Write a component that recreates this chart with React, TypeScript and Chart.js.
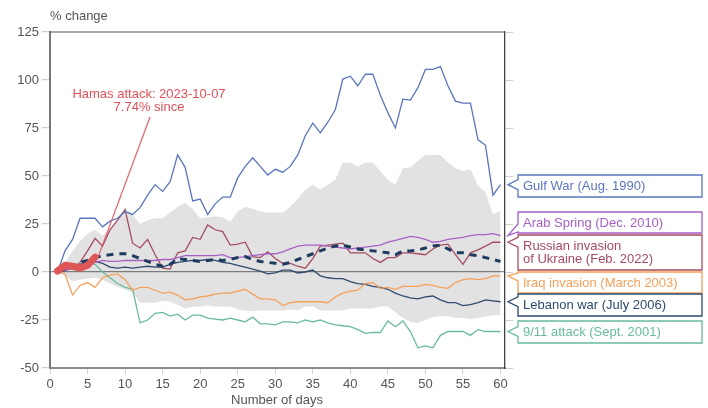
import React, { useEffect, useRef } from 'react';
import { Chart, registerables } from 'chart.js';

Chart.register(...registerables);

const FONT = '"Liberation Sans", Arial, sans-serif';

const days = [1, 2, 3, 4, 5, 6, 7, 8, 9, 10, 11, 12, 13, 14, 15, 16, 17, 18, 19, 20,
  21, 22, 23, 24, 25, 26, 27, 28, 29, 30, 31, 32, 33, 34, 35, 36, 37, 38, 39, 40,
  41, 42, 43, 44, 45, 46, 47, 48, 49, 50, 51, 52, 53, 54, 55, 56, 57, 58, 59, 60];

const gulfWar = [0, 11, 17, 28, 28, 28, 23.5, 26.5, 28, 31.5, 30, 33.5, 40, 45.5, 42, 47, 61, 54.5, 37, 38,
  30, 35.5, 39, 39, 49, 55, 59.5, 55, 50.5, 53.5, 52, 55, 61, 71, 77.5, 72.5, 78, 84.5, 100.5, 102,
  97, 103, 103, 92, 83, 75, 90, 89.5, 96, 105.5, 105.5, 107, 97, 89, 88, 88, 69, 66, 40, 45.5];

const arabSpring = [0, 1, 2, 3, 4, 5, 6, 5.5, 5.5, 6, 6, 6, 6, 6, 6.5, 6.5, 7.5, 8.5, 8.5, 8.5,
  8.5, 8.5, 9, 7.5, 7.5, 8, 8.5, 9, 9.5, 9.5, 10.5, 12, 13.5, 14, 14, 14, 13.5, 13, 12.5, 12,
  12.5, 13, 13.5, 14, 15.5, 16.5, 17.5, 18.5, 18, 17, 15.5, 16, 17, 17.5, 18, 19, 19.5, 19.5, 20, 19];

const russia = [0, 1, 2, 5, 11, 17.5, 13.5, 22, 27, 32.5, 15, 12.5, 17, 9, 2, 1.5, 10, 11, 18, 17,
  24.5, 22, 21, 14, 14.5, 15.5, 8, 7.5, 10.5, 7, 4.5, 4.5, 3, 2, 7, 13.5, 14, 14.5, 15, 10,
  10, 10, 7, 5, 7.5, 7.5, 10, 10, 9.5, 9, 12, 14, 14.5, 9, 4, 10, 11.5, 13.5, 15.5, 15.5];

const iraq = [0, -1, -12, -7, -5.5, -8, -3, -1.5, -1, -4, -9.5, -8, -8, -9.5, -11, -10.5, -12, -14.5, -14, -13,
  -12.5, -11.5, -11, -11, -10, -9, -11.5, -14, -14, -14.5, -17.5, -16, -15.5, -15.5, -15.5, -15.5, -16, -13, -11, -10,
  -9.5, -6, -5.5, -8.5, -8, -9, -7.5, -7.5, -7.5, -6.5, -7, -8, -8.5, -5.5, -4, -3.5, -4, -3.5, -2, -2];

const lebanon = [0, 1, 2, 4, 5, 5.5, 4.5, 2.5, 2, 2.5, 2, 2.5, 3, 2.5, 2.5, 4, 5, 5.5, 6, 6,
  6.5, 6, 5, 4.5, 3.5, 2.5, 1.5, 0.5, -1, -0.5, 1, 1, -0.5, 0, 1, -2, -3, -3.5, -3.5, -5,
  -6, -6.5, -7.5, -8, -9, -11, -12.5, -13.5, -14, -13, -12.5, -14.5, -16, -16, -17.5, -17, -16, -14.5, -15, -15.5];

const nineEleven = [0, 1, 2, 3, 5, 4, 0, -3, -6, -8, -9, -26.5, -25, -21.5, -21, -23, -22, -25, -22.5, -22.5,
  -24, -24.5, -25, -24, -25, -26, -23.5, -27, -27, -27.5, -26, -26, -26.5, -25, -26, -25, -26.5, -27.5, -28, -28.5,
  -30, -32, -31.5, -31.5, -25.5, -28.5, -25.5, -31, -39.5, -38.5, -39.5, -33, -31, -31, -31, -33, -30, -31, -31, -31];

const average = [0, 1.5, 3, 5, 6, 7.5, 8.5, 9, 9.5, 9.5, 8.5, 7, 5.5, 4, 3, 4, 7, 6.5, 6, 5.5,
  6, 6.5, 6, 6.5, 7.5, 8, 6.5, 5.5, 5, 4.5, 4, 5, 6.5, 8, 9.5, 11, 12.5, 13.5, 14, 13,
  12, 11.5, 11, 10.5, 10, 9, 11, 11, 11.5, 12.5, 13.5, 14, 12, 10, 10, 9, 8.5, 7.5, 6.5, 5.5];

const bandUpper = [0, 5, 11, 16, 20, 22, 19, 22, 27, 32, 30, 25, 27, 28, 28, 31, 34, 36, 33, 28,
  28.5, 29, 28.5, 26, 31.5, 34, 33, 31.5, 31, 31, 31, 34, 38, 43, 45.5, 43, 45.5, 48, 57, 57,
  55, 57, 57, 52.5, 48, 45.5, 54, 54.5, 58, 61, 61, 61, 57, 54, 52.5, 53.5, 45, 41.5, 30, 32];

const bandLower = [0, -2, -5, -4, -3.5, -3, -4, -6, -8, -9, -11, -16, -16, -16, -15, -15.5, -17, -19, -18, -18,
  -17.5, -18, -18, -18, -19.5, -20, -20.5, -20, -20, -20, -20, -19.5, -20, -18, -18, -20, -20, -20, -20, -19,
  -19, -19, -19, -18, -18, -21, -24, -26, -26.5, -25, -23.5, -23, -23, -24, -24, -24.5, -24, -23, -22.5, -22.5];

const hamasDays = [1, 2, 3, 4, 5, 6];
const hamas = [0.5, 3.5, 3, 2, 3.5, 7.74];

const xTicks = [0, 5, 10, 15, 20, 25, 30, 35, 40, 45, 50, 55, 60];
const yTicks = [-50, -25, 0, 25, 50, 75, 100, 125];

const seriesLabels = [
  ['Gulf War (Aug. 1990)'],
  ['Arab Spring (Dec. 2010)'],
  ['Russian invasion', 'of Ukraine (Feb. 2022)'],
  ['Iraq invasion (March 2003)'],
  ['Lebanon war (July 2006)'],
  ['9/11 attack (Sept. 2001)'],
];
const seriesValues = [gulfWar, arabSpring, russia, iraq, lebanon, nineEleven];
const seriesColors = ['#5a75bd', '#a660c4', '#a44d60', '#f5a05a', '#2e4a6d', '#68bb9b'];
const boxTops = [175, 212, 235, 272, 294, 321];
const boxBottoms = [197, 233, 270, 293, 316, 343];

const annotationLines = ['Hamas attack: 2023-10-07', '7.74% since'];

const pts = (ys: number[]) => ys.map((y, i) => ({ x: days[i], y }));

export default function App() {
  const ref = useRef<HTMLCanvasElement | null>(null);

  useEffect(() => {
    if (!ref.current) return;

    const lineDatasets = seriesValues.map((vals, i) => ({
      label: seriesLabels[i].join(' '),
      data: pts(vals),
      borderColor: seriesColors[i],
      backgroundColor: seriesColors[i],
      borderWidth: 1.3,
      pointRadius: 0,
      fill: false,
      tension: 0,
    }));

    const overlay = {
      id: 'overlay',
      afterDraw(chart: any) {
        const ctx = chart.ctx;
        const area = chart.chartArea;
        const xs = chart.scales.x;
        const ys = chart.scales.y;
        ctx.save();
        // top frame
        ctx.strokeStyle = '#555';
        ctx.lineWidth = 1.2;
        ctx.beginPath();
        ctx.moveTo(area.left, area.top);
        ctx.lineTo(area.right, area.top);
        ctx.stroke();

        // axis titles
        ctx.font = `13px ${FONT}`;
        ctx.fillStyle = '#555';
        ctx.textBaseline = 'middle';
        ctx.textAlign = 'left';
        ctx.fillText('% change', 50, 16);
        ctx.textAlign = 'center';
        ctx.fillText('Number of days', 277, 400);

        // annotation
        const lastIdx = hamas.length - 1;
        const px = xs.getPixelForValue(hamasDays[lastIdx]);
        const py = ys.getPixelForValue(hamas[lastIdx]);
        ctx.fillStyle = '#e0505a';
        ctx.font = `13px ${FONT}`;
        ctx.textAlign = 'center';
        ctx.fillText(annotationLines[0], 149, 94);
        ctx.fillText(annotationLines[1], 149, 107);
        ctx.strokeStyle = '#e0606a';
        ctx.lineWidth = 1.2;
        ctx.beginPath();
        ctx.moveTo(150, 117);
        ctx.lineTo(px + 3, py);
        ctx.stroke();

        // callout legend
        const bx = 518;
        const bw = 184;
        const tipX = 508;
        seriesValues.forEach((vals, i) => {
          const top = boxTops[i];
          const bottom = boxBottoms[i];
          const tipY = ys.getPixelForValue(vals[vals.length - 1]);
          let ya = Math.max(top + 1, Math.min(tipY - 5, bottom - 9));
          let yb = Math.min(bottom - 1, Math.max(tipY + 5, top + 9));
          ctx.beginPath();
          ctx.moveTo(bx, top);
          ctx.lineTo(bx + bw, top);
          ctx.lineTo(bx + bw, bottom);
          ctx.lineTo(bx, bottom);
          ctx.lineTo(bx, yb);
          ctx.lineTo(tipX, tipY);
          ctx.lineTo(bx, ya);
          ctx.closePath();
          ctx.fillStyle = '#ffffff';
          ctx.fill();
          ctx.strokeStyle = seriesColors[i];
          ctx.lineWidth = 1.3;
          ctx.stroke();
          ctx.fillStyle = seriesColors[i];
          ctx.textAlign = 'left';
          ctx.textBaseline = 'middle';
          ctx.font = `13px ${FONT}`;
          const lines = seriesLabels[i];
          const mid = (top + bottom) / 2 + 0.5;
          const lh = 13.5;
          lines.forEach((t, j) => {
            ctx.fillText(t, 523, mid + (j - (lines.length - 1) / 2) * lh);
          });
        });
        ctx.restore();
      },
    };

    const chart = new Chart(ref.current, {
      type: 'line',
      data: {
        datasets: [
          {
            label: 'Hamas attack',
            data: hamasDays.map((d, i) => ({ x: d, y: hamas[i] })),
            borderColor: '#df5656',
            borderWidth: 7,
            pointRadius: 0,
            borderCapStyle: 'round',
            borderJoinStyle: 'round',
            fill: false,
          },
          {
            label: 'Average',
            data: pts(average),
            borderColor: '#1f3a5f',
            borderWidth: 3,
            borderDash: [7, 6],
            pointRadius: 0,
            fill: false,
          },
          ...lineDatasets,
          {
            label: 'Upper',
            data: pts(bandUpper),
            borderColor: 'rgba(0,0,0,0)',
            borderWidth: 0,
            pointRadius: 0,
            fill: '+1',
            backgroundColor: 'rgba(0,0,0,0.115)',
          },
          {
            label: 'Lower',
            data: pts(bandLower),
            borderColor: 'rgba(0,0,0,0)',
            borderWidth: 0,
            pointRadius: 0,
            fill: false,
          },
        ] as any,
      },
      options: {
        animation: false,
        responsive: true,
        maintainAspectRatio: false,
        devicePixelRatio: 1,
        layout: { padding: { left: 0, top: 32, right: 191, bottom: 0 } },
        plugins: {
          legend: { display: false },
          tooltip: { enabled: false },
        },
        scales: {
          x: {
            type: 'linear',
            min: 0,
            max: 60.6,
            afterBuildTicks: (s: any) => {
              s.ticks = xTicks.map((v) => ({ value: v }));
            },
            afterFit: (s: any) => {
              s.height = 40;
            },
            ticks: {
              color: '#555',
              font: { family: FONT, size: 13 },
              padding: 3,
              maxRotation: 0,
              autoSkip: false,
            },
            grid: { drawOnChartArea: false, tickLength: 6, color: '#cfcfcf' },
            border: { color: '#8a8a8a', width: 2 },
          },
          y: {
            min: -50,
            max: 125,
            afterBuildTicks: (s: any) => {
              s.ticks = yTicks.map((v) => ({ value: v }));
            },
            afterFit: (s: any) => {
              s.width = 50;
            },
            ticks: {
              color: '#555',
              font: { family: FONT, size: 13 },
              padding: 3,
            },
            grid: {
              drawOnChartArea: true,
              color: (c: any) => (c.tick && c.tick.value === 0 ? '#8c8c8c' : 'rgba(0,0,0,0)'),
              tickColor: '#cfcfcf',
              tickLength: 8,
              lineWidth: 1.2,
            },
            border: { color: '#777', width: 2 },
          },
          y2: {
            position: 'right',
            min: -50,
            max: 125,
            afterBuildTicks: (s: any) => {
              s.ticks = yTicks.map((v) => ({ value: v }));
            },
            afterFit: (s: any) => {
              s.width = 12;
            },
            ticks: { display: false },
            grid: { drawOnChartArea: false, tickLength: 8, color: '#cfcfcf' },
            border: { color: '#444', width: 1.3 },
          },
        },
      } as any,
      plugins: [overlay],
    });

    return () => chart.destroy();
  }, []);

  return (
    <div style={{ position: 'fixed', left: 0, top: 0, width: 708, height: 408, background: '#fff' }}>
      <canvas ref={ref} />
    </div>
  );
}
